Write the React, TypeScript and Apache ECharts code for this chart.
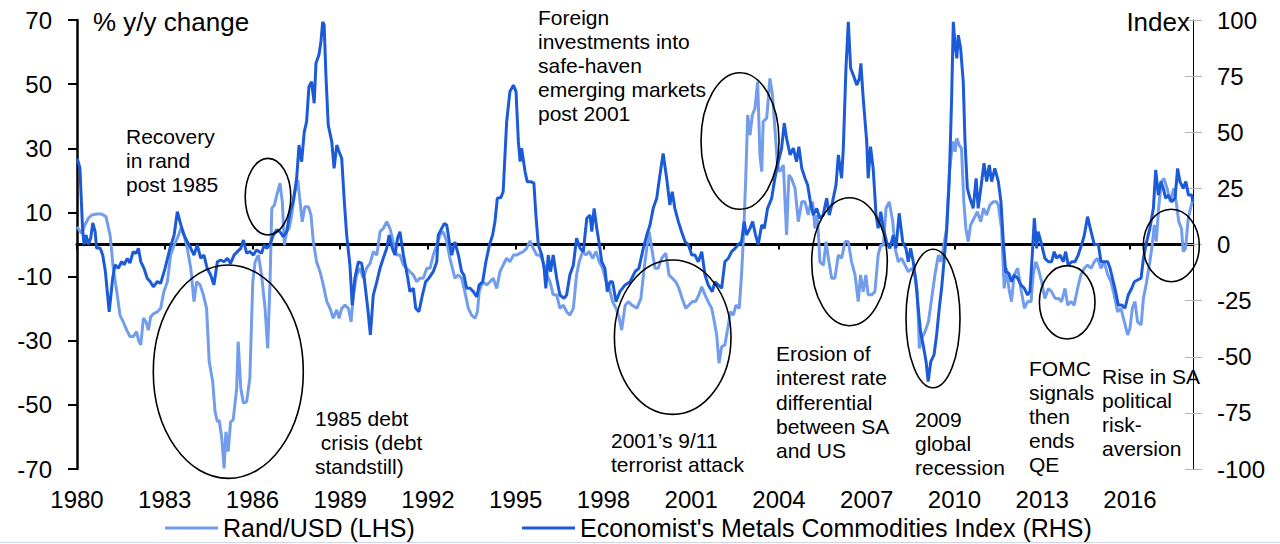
import React, { useEffect, useRef } from "react";
import * as echarts from "echarts";

const yearTicks = [1980, 1983, 1986, 1989, 1992, 1995, 1998, 2001, 2004, 2007, 2010, 2013, 2016];
const leftTicks = [-70, -50, -30, -10, 10, 30, 50, 70];

const randYears = [
  1980.0, 1980.16, 1980.27, 1980.39, 1980.5, 1980.67, 1980.84, 1980.99,
  1981.13, 1981.24, 1981.36, 1981.47, 1981.58, 1981.7, 1981.81, 1981.92,
  1982.04, 1982.1, 1982.18, 1982.27, 1982.36, 1982.44, 1982.52, 1982.63, 1982.75, 1982.86, 1982.97,
  1983.09, 1983.2, 1983.32, 1983.43, 1983.55, 1983.66, 1983.77, 1983.89,
  1984.0, 1984.09, 1984.21, 1984.32, 1984.43, 1984.52, 1984.64, 1984.72, 1984.8, 1984.86, 1984.95,
  1985.03, 1985.09, 1985.17, 1985.25, 1985.34, 1985.46, 1985.51, 1985.6, 1985.69, 1985.8, 1985.91,
  1986.01, 1986.09, 1986.2, 1986.31, 1986.43, 1986.52, 1986.6, 1986.66, 1986.75, 1986.83, 1986.94,
  1987.02, 1987.09, 1987.17, 1987.25, 1987.34, 1987.43, 1987.55, 1987.62, 1987.7, 1987.79, 1987.91,
  1988.0, 1988.08, 1988.19, 1988.31, 1988.42, 1988.54, 1988.65, 1988.76, 1988.88, 1988.96,
  1989.05, 1989.16, 1989.28, 1989.37, 1989.45, 1989.56, 1989.68, 1989.79, 1989.9,
  1990.02, 1990.13, 1990.25, 1990.36, 1990.47, 1990.59, 1990.7, 1990.81, 1990.93,
  1991.04, 1991.16, 1991.27, 1991.38, 1991.5, 1991.61, 1991.73, 1991.84, 1991.96,
  1992.07, 1992.18, 1992.3, 1992.41, 1992.52, 1992.64, 1992.75, 1992.92,
  1993.04, 1993.15, 1993.26, 1993.38, 1993.49, 1993.61, 1993.69, 1993.75, 1993.87,
  1994.01, 1994.12, 1994.23, 1994.35, 1994.46, 1994.57, 1994.69, 1994.8, 1994.92,
  1995.03, 1995.15, 1995.26, 1995.37, 1995.49, 1995.6, 1995.72, 1995.83, 1995.94,
  1996.06, 1996.17, 1996.28, 1996.4, 1996.51, 1996.63, 1996.74, 1996.85, 1996.97,
  1997.08, 1997.17, 1997.29, 1997.4, 1997.51, 1997.63, 1997.74, 1997.86, 1997.97,
  1998.09, 1998.2, 1998.31, 1998.43, 1998.54, 1998.62, 1998.74, 1998.85, 1998.97,
  1999.14, 1999.28, 1999.39, 1999.48, 1999.56, 1999.65, 1999.76, 1999.87, 1999.99,
  2000.13, 2000.24, 2000.35, 2000.47, 2000.58, 2000.69, 2000.81, 2000.92,
  2001.04, 2001.15, 2001.26, 2001.36, 2001.47, 2001.58, 2001.7, 2001.79, 2001.87, 2001.95,
  2002.04, 2002.15, 2002.25, 2002.34, 2002.44, 2002.53, 2002.64, 2002.72, 2002.8, 2002.86, 2002.93,
  2003.01, 2003.09, 2003.18, 2003.27, 2003.35, 2003.41, 2003.46, 2003.58, 2003.69, 2003.78, 2003.86, 2003.95,
  2004.03, 2004.15, 2004.26, 2004.34, 2004.43, 2004.55, 2004.66, 2004.78, 2004.89,
  2005.0, 2005.06, 2005.15, 2005.23, 2005.31, 2005.4, 2005.52, 2005.61, 2005.69, 2005.8, 2005.91,
  2006.03, 2006.14, 2006.26, 2006.37, 2006.48, 2006.6, 2006.71, 2006.79, 2006.88, 2006.97,
  2007.05, 2007.17, 2007.28, 2007.39, 2007.48, 2007.57, 2007.66, 2007.77, 2007.89, 2007.97,
  2008.08, 2008.19, 2008.31, 2008.42, 2008.54, 2008.65, 2008.73, 2008.8, 2008.88, 2008.99,
  2009.11, 2009.22, 2009.33, 2009.45, 2009.53, 2009.62, 2009.73, 2009.82, 2009.9, 2009.96,
  2010.02, 2010.08, 2010.16, 2010.24, 2010.32, 2010.39, 2010.47, 2010.55, 2010.67, 2010.78, 2010.9, 2010.99,
  2011.1, 2011.21, 2011.32, 2011.44, 2011.5, 2011.61, 2011.7, 2011.78, 2011.86, 2011.95,
  2012.04, 2012.16, 2012.27, 2012.39, 2012.5, 2012.62, 2012.69, 2012.78, 2012.86, 2012.98,
  2013.09, 2013.21, 2013.32, 2013.44, 2013.55, 2013.66, 2013.78, 2013.87, 2013.98,
  2014.09, 2014.21, 2014.32, 2014.44, 2014.55, 2014.67, 2014.78, 2014.89,
  2015.01, 2015.12, 2015.24, 2015.35, 2015.46, 2015.58, 2015.69, 2015.81, 2015.92,
  2016.0, 2016.08, 2016.17, 2016.26, 2016.38, 2016.46, 2016.57, 2016.68, 2016.76, 2016.83, 2016.9, 2016.98,
  2017.07, 2017.16, 2017.27, 2017.38, 2017.5, 2017.58, 2017.67, 2017.76, 2017.82, 2017.9, 2017.99,
  2018.09, 2018.15,
];

const randValues = [
  5.5, 3.5, 6.1, 8.2, 9.2, 9.5, 9.5, 8.7,
  3, -7.4, -14.7, -22, -24.1, -26.7, -28.7, -28.7,
  -27.2, -29.8, -31.3, -23, -24.1, -26.7, -22.5, -21.5, -21, -19.9, -14.7,
  -11.6, -3.3, -0.2, 1.9, 5, 3, -1.2, -7.4,
  -17.8, -11.6, -12.6, -15.7, -19.9, -36.5, -42.8, -52.1, -55.3, -54.7, -60.4,
  -69.8, -58.4, -64.6, -55.3, -54.7, -44.8, -30.3, -44.8, -49.5, -49, -41.7,
  -11.6, -5.4, -3.3, -9.5, -19.9, -32.4, -11.6, 11.3, 12.3, 15.4, 19.1,
  13.3, -0.2, 4, 5, 9.2, 15.4, 20.1, 13.9, 7.1, 11.8, 11.8,
  9.2, 0.9, -5.4, -8.5, -12.6, -17.8, -19.9, -23, -20.4, -23,
  -19.9, -18.9, -19.9, -24.1, -15.7, -9.5, -7.4, -10.5, -7.4,
  -5.9, -2.2, -3.3, 4, 5, 7.1, 5, 0.9, -3.3,
  -3.3, -6.4, -7.4, -8.5, -9.5, -11.6, -10.5, -10.5, -7.4,
  -7.4, -3.3, -0.2, 3, 4, 0.9, -4.3, -10.5,
  -9.5, -10.5, -14.7, -19.9, -22, -23, -21, -14.7, -11.6,
  -12.6, -11.6, -10.5, -13.7, -8.5, -6.4, -4.3, -5.4, -3.3,
  -3.3, -2.7, -2.2, -1.2, 1.1, -1.2, -3.3, -3.3, -5.4,
  -9.5, -11.6, -15.7, -15.7, -19.9, -18.9, -21, -22, -19.9,
  -9.5, -5.4, -2.2, -3.3, -2.2, -4.3, -2.2, -5.4, -7.4,
  -11.6, -13.7, -17.8, -19.9, -23, -26.7, -19, -17.8, -18.9,
  -19.9, -16.8, -7.4, -1.2, 4, -1.2, -7.4, -7.4, -4.3,
  -2.7, -9.5, -10.5, -11.6, -13.7, -16.8, -19.9, -18.9,
  -17.8, -17.8, -15.7, -13.2, -15.7, -17.8, -19.9, -24.1, -28.2, -37,
  -31.9, -31.3, -26.1, -21, -22, -18.9, -19.9, -9.5, 5, 19.6, 40.4,
  34.1, 40.4, 42.5, 50.8, 27.9, 22.7, 38.3, 39.4, 51.8, 46.6, 36.2, 24.8,
  22.7, 24.8, 3, 21.7, 20.6, 17.5, 7.1, 13.3, 13.3,
  9.2, 12, 13.3, 5, 9.2, -5.4, -6.4, 0.9, -4.3, -10.5, -10.5,
  -3.3, -4.3, 0.9, 0.9, -5.4, -9.5, -17.8, -9.5, -14.7, -9.5,
  -15.7, -15.7, -14.7, -3.3, -0.2, -0.2, 11.3, 13.3, 7.1, -1.2,
  -5.4, -4.3, -6.4, -8.5, -7.4, -9.5, -14.7, -32.4, -29.3, -27.2,
  -24.1, -16.8, -9.5, -3.3, -5.4, -1.2, 5, 21.7, 28.9, 32.1,
  28.9, 33.1, 31, 30, 13.3, 5, 0.9, 6.1, 8.2, 10.2, 7.1, 11.3,
  9.2, 12.3, 13.3, 13.3, 12.3, 5, -13.7, -7.4, -13.7, -17.8,
  -9.5, -7.4, -13.7, -19.9, -17.8, -17.8, -9.5, -5.4, -7.4, -11.6,
  -16.8, -13.7, -14.7, -16.8, -16.8, -17.8, -13.7, -18.9, -17.8,
  -18.9, -13.7, -9.5, -7.4, -6.4, -7.4, -5.4, -4.3,
  -7.4, -5.4, -9.5, -11.6, -15.7, -21, -19.9, -24.1, -28.2,
  -26.1, -19.9, -17.8, -24.1, -25.1, -16.8, -11.6, -5.4, -0.2, 6.1, 0.9, 11.3,
  19.6, 20.6, 17.5, 13.3, 17.5, 13.3, 7.1, 5, -2.2, -1.2, 8,
  12, 14,
];

const metalYears = [
  1980.01, 1980.1, 1980.19, 1980.24, 1980.31, 1980.39, 1980.47, 1980.54, 1980.62, 1980.67, 1980.79, 1980.88, 1980.97,
  1981.1, 1981.22, 1981.3, 1981.41, 1981.53, 1981.61, 1981.72, 1981.81, 1981.92,
  1982.02, 1982.1, 1982.18, 1982.29, 1982.4, 1982.5, 1982.61, 1982.75, 1982.86,
  1983.01, 1983.18, 1983.32, 1983.43, 1983.55, 1983.66, 1983.77, 1983.89,
  1984.0, 1984.11, 1984.23, 1984.34, 1984.45, 1984.57, 1984.68, 1984.8, 1984.91,
  1985.03, 1985.14, 1985.25, 1985.37, 1985.48, 1985.6, 1985.69, 1985.8, 1985.91,
  1986.03, 1986.14, 1986.31, 1986.4, 1986.49, 1986.6, 1986.71, 1986.83, 1986.94,
  1987.05, 1987.17, 1987.28, 1987.39, 1987.51, 1987.59, 1987.68, 1987.77, 1987.85, 1987.93,
  1988.02, 1988.11, 1988.17, 1988.27, 1988.34, 1988.4, 1988.45, 1988.51, 1988.59, 1988.71, 1988.79, 1988.88, 1988.96,
  1989.05, 1989.14, 1989.22, 1989.33, 1989.41, 1989.5, 1989.62, 1989.73, 1989.82, 1989.94,
  1990.03, 1990.13, 1990.25, 1990.36, 1990.47, 1990.59, 1990.67, 1990.78, 1990.87, 1990.96,
  1991.04, 1991.16, 1991.31, 1991.38, 1991.5, 1991.58, 1991.69, 1991.81, 1991.92,
  1992.03, 1992.18, 1992.3, 1992.35, 1992.47, 1992.56, 1992.64, 1992.73, 1992.81, 1992.92,
  1993.04, 1993.15, 1993.23, 1993.32, 1993.44, 1993.55, 1993.67, 1993.75, 1993.87, 1993.98,
  1994.1, 1994.21, 1994.29, 1994.37, 1994.49, 1994.57, 1994.69, 1994.8, 1994.92,
  1995.01, 1995.09, 1995.15, 1995.2, 1995.32, 1995.39, 1995.51, 1995.62, 1995.69, 1995.77, 1995.89, 1995.97,
  1996.03, 1996.11, 1996.19, 1996.28, 1996.4, 1996.51, 1996.65, 1996.74, 1996.85, 1996.97,
  1997.08, 1997.2, 1997.31, 1997.43, 1997.54, 1997.6, 1997.68, 1997.77, 1997.86, 1997.94,
  1998.05, 1998.13, 1998.22, 1998.31, 1998.43, 1998.56, 1998.74, 1998.91,
  1999.08, 1999.21, 1999.36, 1999.48, 1999.59, 1999.7, 1999.82, 1999.93,
  2000.04, 2000.16, 2000.27, 2000.35, 2000.44, 2000.56, 2000.67, 2000.79, 2000.9,
  2001.02, 2001.13, 2001.24, 2001.36, 2001.47, 2001.58, 2001.72, 2001.81, 2001.92,
  2002.04, 2002.15, 2002.27, 2002.38, 2002.5, 2002.61, 2002.72, 2002.81, 2002.89,
  2003.01, 2003.1, 2003.2, 2003.29, 2003.41, 2003.5, 2003.61, 2003.75, 2003.86, 2003.98,
  2004.09, 2004.18, 2004.26, 2004.38, 2004.49, 2004.6, 2004.68, 2004.78, 2004.89, 2004.98,
  2005.06, 2005.17, 2005.29, 2005.4, 2005.51, 2005.63, 2005.72, 2005.83, 2005.95,
  2006.03, 2006.14, 2006.2, 2006.29, 2006.37, 2006.45, 2006.54, 2006.66, 2006.75, 2006.8, 2006.88,
  2007.0, 2007.05, 2007.13, 2007.22, 2007.32, 2007.39, 2007.48, 2007.57, 2007.68, 2007.79, 2007.91,
  2008.0, 2008.11, 2008.23, 2008.34, 2008.42, 2008.5, 2008.59, 2008.68, 2008.76, 2008.84, 2008.93,
  2009.03, 2009.1, 2009.19, 2009.3, 2009.39, 2009.48, 2009.56, 2009.64, 2009.73, 2009.82, 2009.9, 2009.96,
  2010.02, 2010.08, 2010.13, 2010.21, 2010.3, 2010.36, 2010.44, 2010.53, 2010.64, 2010.74, 2010.81, 2010.9,
  2011.01, 2011.1, 2011.19, 2011.27, 2011.38, 2011.5, 2011.59, 2011.67, 2011.75, 2011.86, 2011.95,
  2012.04, 2012.16, 2012.27, 2012.39, 2012.5, 2012.58, 2012.66, 2012.73, 2012.81, 2012.86, 2012.98,
  2013.09, 2013.21, 2013.32, 2013.41, 2013.49, 2013.61, 2013.72, 2013.8, 2013.89,
  2014.01, 2014.12, 2014.23, 2014.35, 2014.44, 2014.55, 2014.67, 2014.78, 2014.92,
  2015.01, 2015.12, 2015.24, 2015.32, 2015.43, 2015.51, 2015.6, 2015.72, 2015.83, 2015.94,
  2016.06, 2016.15, 2016.26, 2016.38, 2016.46, 2016.57, 2016.68, 2016.8, 2016.88, 2016.97,
  2017.06, 2017.14, 2017.22, 2017.31, 2017.43, 2017.54, 2017.63, 2017.71, 2017.82, 2017.91,
  2018.0, 2018.11, 2018.15,
];

const metalValues = [
  38.4, 34, 7.2, 0, 4.2, 0, 2.9, 9.6, 5.7, -1.6, -1.6, -4.7, -12,
  -30, -15, -9, -10.6, -7.6, -9, -6.2, -8.3, -3.2,
  -4, -1.7, -7.6, -10.6, -15, -16.5, -18.8, -16.5, -17.3,
  -10.6, -1.7, 4.2, 14.6, 8.7, 4.2, 1.2, -1.7,
  -4.7, -0.2, -6.1, -4.7, -10.6, -13.6, -18, -7.7, -6.9,
  -7.7, -6.1, -8.4, -4.7, -3.2, -1.7, 2, -3.9, -3.2,
  -4.7, -2.4, -3.9, -0.2, -1.7, 0, 4.2, 6.5, 5.7,
  3.5, 5.7, 14.6, 19, 29.5, 44.3, 36.9, 50.2, 54.7, 70.3,
  72.5, 62.9, 80.7, 84.4, 90.3, 99.2, 97.8, 75.5, 53.2, 45.8, 33.9, 44.3, 41.3,
  38.4, 19, 4.2, -9.1, -27, -15, -7.7, -8.4, -15, -28.4,
  -40.3, -22.5, -16.6, -10.6, -6.1, -1.7, 4.2, -1.7, -4.7, 2.8,
  5.7, -4.7, -15, -21, -19.5, -28.4, -29.9, -22.5, -16.6,
  -15, -12.1, -7.7, 4.2, 7.2, 9.4, 8.7, 1.2, -4.7, 1.2,
  -4.7, -12.1, -13.6, -19.5, -19.5, -21, -23.3, -18, -16.6, -7.7,
  -0.2, 4.2, 10.2, 20.6, 20.9, 23.5, 54.7, 68.1, 71,
  68.1, 45.8, 36.9, 42.9, 32.4, 28, 28, 27.3, 13.1, 0, -4.7, -10.6,
  -19.5, -4.7, -12.1, -4.7, -15, -22.5, -24, -22.5, -13.6, -9.1,
  2.8, -1.7, -3.2, 11.7, 13.1, 5.7, 16.1, 7.2, 0, -7.7,
  -10.6, -21, -16.6, -16.6, -25.5, -21, -18, -16.6,
  -12.1, -10.6, -1.7, 4.2, 8.7, 16.1, 20.6, 31,
  40.6, 29.5, 17.6, 23.5, 16.1, 10.2, 5.7, 1.2, 0,
  -4.7, -4.7, -7.7, -3.2, -13.6, -18, -21, -16.6, -18,
  -19.5, -7.7, -6.1, -3.2, -1.7, 0, 1.2, 10.2, 4.2,
  7.2, 10.2, 4.2, 0, 8.7, 7.2, 16.1, 20.6, 29.5, 36.9,
  42.9, 54, 47.3, 39.9, 42.9, 36.9, 43.6, 33.9, 29.5, 26.5,
  20, 13.1, 16.1, 11.7, 13.1, 20.6, 13.1, 19, 26.5,
  39.9, 29.5, 42.9, 78.5, 99.2, 78.5, 75.5, 71, 74, 80.7, 65.1,
  45.8, 29.5, 43.6, 33.9, 13.1, 7.2, 14.6, 7.2, 1.2, -1.7, 4.2,
  -1.7, 13.9, 1.2, -1.7, -7.7, -1.7, -7.7, -16.6, -28.4, -38.8, -44.8,
  -52.2, -61.1, -52.2, -49.2, -40.3, -28.4, -19.5, -7.7, 5.7, 28, 63.6, 99.2,
  88.9, 82.9, 93.3, 87.4, 72.5, 45.8, 25, 20.6, 16.1, 29.5, 16.1, 25,
  36.2, 28, 35.4, 28, 33.9, 28, 19, 1.2, -12.1, -12.8, -16.6,
  -13.6, -15, -18, -19.5, -22.5, -21, -4.7, 11.7, -1.7, 5.7, 0,
  -6.1, -7.7, -7.7, -3.2, -6.1, -4.7, -7.7, -3.2, -9.1,
  -7.7, -7.7, -4.7, 0, 4.2, 12.4, 5.7, 0, 0,
  -7.7, -7.7, -7.7, -10.6, -16.6, -21, -27, -27, -28.4, -22.5,
  -19.5, -16.6, -15.8, -15, -6.1, 1.2, 7.2, 16.1, 33.2, 22,
  28, 25, 20.6, 22, 19, 20.6, 33.9, 28, 25, 28,
  22, 22, 19,
];

const RAND_NAME = "Rand/USD (LHS)";
const METAL_NAME = "Economist's Metals Commodities Index (RHS)";
const FONT = '"Liberation Sans", Arial, Helvetica, sans-serif';
const DARK = "#1c5bd7";
const LIGHT = "#729dec";

const notes = [
  { text: "Recovery\nin rand\npost 1985", x: 126, y: 124, lh: 24 },
  { text: "1985 debt\n crisis (debt\nstandstill)", x: 315, y: 407, lh: 23.7 },
  { text: "Foreign\ninvestments into\nsafe-haven\nemerging markets\npost 2001", x: 538, y: 6, lh: 23.8 },
  { text: "2001\u2019s 9/11\nterrorist attack", x: 611, y: 429, lh: 23.5 },
  { text: "Erosion of\ninterest rate\ndifferential\nbetween SA\nand US", x: 776, y: 341, lh: 24.4 },
  { text: "2009\nglobal\nrecession", x: 915, y: 407, lh: 24 },
  { text: "FOMC\nsignals\nthen\nends\nQE", x: 1029, y: 356, lh: 24 },
  { text: "Rise in SA\npolitical\nrisk-\naversion", x: 1102, y: 364, lh: 24 },
];

const circles = [
  { cx: 268, cy: 196.7, rx: 22.8, ry: 38.3 },
  { cx: 228.3, cy: 371.7, rx: 75, ry: 106.7 },
  { cx: 672.7, cy: 337.2, rx: 58.3, ry: 77.2 },
  { cx: 740, cy: 141, rx: 39, ry: 68.3 },
  { cx: 849.5, cy: 261.7, rx: 37.8, ry: 64 },
  { cx: 933, cy: 318.5, rx: 27, ry: 69.2 },
  { cx: 1067.2, cy: 302.3, rx: 27.8, ry: 36.7 },
  { cx: 1171.3, cy: 245.5, rx: 28, ry: 36.2 },
];

export default function App() {
  const ref = useRef<HTMLDivElement>(null);
  useEffect(() => {
    document.body.style.margin = "0";
    if (!ref.current) return;
    const chart = echarts.init(ref.current, null, { renderer: "svg" });
    const xMin = 1980;
    const xMax = 2018.155;
    const graphics: any[] = [];
    circles.forEach((c) =>
      graphics.push({
        type: "ellipse",
        z: 100,
        shape: { cx: c.cx, cy: c.cy, rx: c.rx, ry: c.ry },
        style: { fill: "none", stroke: "#000", lineWidth: 1.6 },
      })
    );
    notes.forEach((n) =>
      graphics.push({
        type: "text",
        z: 100,
        x: n.x,
        y: n.y,
        style: {
          text: n.text,
          fontSize: 21,
          fontFamily: FONT,
          fill: "#000",
          lineHeight: n.lh,
          verticalAlign: "top",
          align: "left",
        },
      })
    );
    graphics.push({
      type: "text",
      z: 100,
      x: 93,
      y: 22,
      style: { text: "% y/y change", fontSize: 26, fontFamily: FONT, fill: "#000", verticalAlign: "middle", align: "left" },
    });
    graphics.push({
      type: "text",
      z: 100,
      x: 1190,
      y: 22,
      style: { text: "Index", fontSize: 26, fontFamily: FONT, fill: "#000", verticalAlign: "middle", align: "right" },
    });
    graphics.push({
      type: "line",
      z: 100,
      shape: { x1: 0, y1: 542.5, x2: 1280, y2: 542.5 },
      style: { stroke: "#cfd6e6", lineWidth: 1 },
    });

    const legendCommon = {
      icon: "rect",
      itemWidth: 53,
      itemHeight: 3,
      top: 514,
      padding: 0,
      textStyle: { fontSize: 25, lineHeight: 28, color: "#000", fontFamily: FONT },
    };

    chart.setOption({
      animation: false,
      backgroundColor: "#fff",
      textStyle: { fontFamily: FONT },
      grid: { left: 77, right: 87, top: 20, bottom: 75 },
      legend: [
        { ...legendCommon, left: 165, data: [RAND_NAME] },
        { ...legendCommon, left: 522, data: [METAL_NAME] },
      ],
      xAxis: [
        {
          type: "value",
          min: xMin,
          max: xMax,
          interval: 3,
          position: "bottom",
          axisLine: { show: false },
          axisTick: { show: false },
          splitLine: { show: false },
          axisLabel: {
            customValues: yearTicks,
            fontSize: 24,
            color: "#000",
            margin: 18,
            fontFamily: FONT,
            formatter: (v: number) => String(Math.round(v)),
          },
        },
        {
          type: "value",
          min: xMin,
          max: xMax,
          interval: 3,
          position: "bottom",
          axisLine: { show: true, onZero: true, onZeroAxisIndex: 0, lineStyle: { color: "#000", width: 3 } },
          axisTick: { show: true, customValues: yearTicks, length: 5, inside: false, lineStyle: { color: "#000", width: 2 } },
          axisLabel: { show: false },
          splitLine: { show: false },
        },
      ],
      yAxis: [
        {
          type: "value",
          position: "left",
          min: -70,
          max: 70,
          interval: 20,
          axisLine: { show: true, onZero: false, lineStyle: { color: "#000", width: 2.5 } },
          axisTick: { show: true, customValues: leftTicks, length: 9, lineStyle: { color: "#000", width: 2 } },
          axisLabel: { customValues: leftTicks, fontSize: 24, color: "#000", margin: 25, fontFamily: FONT },
          splitLine: { show: false },
        },
        {
          type: "value",
          position: "right",
          min: -100,
          max: 100,
          interval: 25,
          axisLine: { show: true, onZero: false, lineStyle: { color: "#000", width: 1 } },
          axisTick: { show: true, length: 9, lineStyle: { color: "#b4b4b4", width: 1 } },
          axisLabel: { fontSize: 24, color: "#000", margin: 24, fontFamily: FONT },
          splitLine: { show: false },
        },
        {
          type: "value",
          position: "right",
          min: -100,
          max: 100,
          interval: 25,
          axisLine: { show: false, onZero: false },
          axisTick: { show: true, inside: true, length: 8, lineStyle: { color: "#b4b4b4", width: 1 } },
          axisLabel: { show: false },
          splitLine: { show: false },
        },
      ],
      series: [
        {
          name: RAND_NAME,
          type: "line",
          xAxisIndex: 0,
          yAxisIndex: 0,
          data: randYears.map((x, i) => [x, randValues[i]]),
          symbol: "none",
          showSymbol: false,
          lineStyle: { color: LIGHT, width: 3 },
          itemStyle: { color: LIGHT },
          z: 2,
        },
        {
          name: METAL_NAME,
          type: "line",
          xAxisIndex: 0,
          yAxisIndex: 1,
          data: metalYears.map((x, i) => [x, metalValues[i]]),
          symbol: "none",
          showSymbol: false,
          lineStyle: { color: DARK, width: 3 },
          itemStyle: { color: DARK },
          z: 3,
        },
      ],
      graphic: graphics,
    });
    return () => chart.dispose();
  }, []);
  return <div ref={ref} style={{ width: 1280, height: 544 }} />;
}
